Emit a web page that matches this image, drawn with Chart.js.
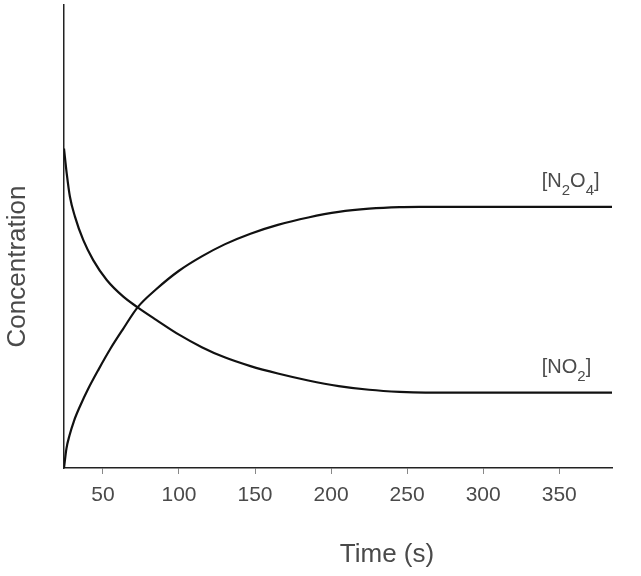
<!DOCTYPE html>
<html>
<head>
<meta charset="utf-8">
<script src="https://cdn.jsdelivr.net/npm/chart.js@4.4.1/dist/chart.umd.min.js"></script>
<style>
  body { margin: 0; background: #fff; }
  #wrap { width: 641px; height: 576px; position: relative; }
</style>
</head>
<body>
<div id="wrap"><canvas id="chart"></canvas></div>
<script>
// values (time in s, concentration in arbitrary units 0-100)
const n2o4Time = [24.4, 26, 28, 31, 35, 40, 47, 55, 63, 72.8, 85, 100, 115, 130, 147, 165, 185, 205, 225, 245, 258, 384.7]
const n2o4Conc = [0, 4.2, 7.0, 10.2, 13.4, 16.9, 21.2, 25.8, 29.9, 34.7, 38.6, 42.6, 45.7, 48.3, 50.6, 52.5, 54.1, 55.3, 56.0, 56.35, 56.4, 56.4]

const no2Time = [24.4, 26.2, 28.3, 31.6, 37.1, 43.6, 52.5, 63.4, 72.8, 85, 100, 115, 130, 147, 165, 185, 205, 225, 245, 262, 384.7]
const no2Conc = [69.0, 63.6, 58.6, 54.3, 49.2, 44.9, 40.6, 37.0, 34.7, 32.0, 28.8, 26.1, 23.9, 22.0, 20.4, 18.9, 17.7, 16.9, 16.45, 16.3, 16.3]

const timeTicks = [50, 100, 150, 200, 250, 300, 350]
const labelTime = 338.5

const textColor = '#4a4a4a'
const lineColor = '#111'
const fontFamily = '"Liberation Sans", Arial, sans-serif'

function toPoints(xs, ys){
    let pts = []
    for(let i = 0; i < xs.length; i++){
        pts.push({ x: xs[i], y: ys[i] })
    }
    return pts
}

// draws text like [N2O4] with the digits as subscripts
function drawFormula(ctx, parts, x, y){
    let cx = x
    for(let p of parts){
        ctx.font = p.sub ? '15px ' + fontFamily : '20px ' + fontFamily
        ctx.fillText(p.t, cx, p.sub ? y + 8 : y)
        cx += ctx.measureText(p.t).width
    }
}

const seriesLabels = {
    id: 'seriesLabels',
    afterDatasetsDraw(chart){
        const ctx = chart.ctx
        const xs = chart.scales.x
        const ys = chart.scales.y
        ctx.save()
        ctx.fillStyle = textColor
        ctx.textBaseline = 'alphabetic'
        ctx.textAlign = 'left'
        let lx = xs.getPixelForValue(labelTime)
        drawFormula(ctx, [{t:'[N'}, {t:'2', sub:true}, {t:'O'}, {t:'4', sub:true}, {t:']'}],
            lx, ys.getPixelForValue(n2o4Conc[n2o4Conc.length - 1]) - 20)
        drawFormula(ctx, [{t:'[NO'}, {t:'2', sub:true}, {t:']'}],
            lx, ys.getPixelForValue(no2Conc[no2Conc.length - 1]) - 20)
        ctx.restore()
    }
}

// axis titles sit a bit off-centre in the reference, so draw them by hand
const axisTitles = {
    id: 'axisTitles',
    afterDraw(chart){
        const ctx = chart.ctx
        const area = chart.chartArea
        ctx.save()
        ctx.fillStyle = textColor
        ctx.font = '26px ' + fontFamily
        ctx.textAlign = 'center'
        ctx.textBaseline = 'alphabetic'
        ctx.fillText('Time (s)', (area.left + area.right) / 2 + 49, 562)
        ctx.translate(25, (area.top + area.bottom) / 2 + 30)
        ctx.rotate(-Math.PI / 2)
        ctx.fillText('Concentration', 0, 0)
        ctx.restore()
    }
}

const data = {
    datasets: [
        {
            label: 'N2O4',
            data: toPoints(n2o4Time, n2o4Conc),
            borderColor: lineColor,
            borderWidth: 2.2,
            pointRadius: 0,
            cubicInterpolationMode: 'monotone'
        },
        {
            label: 'NO2',
            data: toPoints(no2Time, no2Conc),
            borderColor: lineColor,
            borderWidth: 2.2,
            pointRadius: 0,
            cubicInterpolationMode: 'monotone'
        }
    ]
}

const config = {
    type: 'line',
    data: data,
    plugins: [seriesLabels, axisTitles],
    options: {
        responsive: true,
        maintainAspectRatio: false,
        animation: false,
        layout: { padding: { top: 5, right: 29, bottom: 0, left: 0 } },
        plugins: {
            legend: { display: false },
            tooltip: { enabled: false }
        },
        scales: {
            x: {
                type: 'linear',
                min: n2o4Time[0],
                max: n2o4Time[n2o4Time.length - 1],
                afterBuildTicks: (scale) => { scale.ticks = timeTicks.map(v => ({ value: v })) },
                afterFit: (scale) => { scale.height = 108 },
                grid: { drawOnChartArea: false, drawTicks: true, tickLength: 6, color: '#888', lineWidth: 1 },
                border: { display: true, color: '#222', width: 1.5 },
                ticks: {
                    color: textColor,
                    padding: 9,
                    maxRotation: 0,
                    font: { family: fontFamily, size: 21 }
                }
            },
            y: {
                min: 0,
                max: 100,
                afterFit: (scale) => { scale.width = 64 },
                grid: { display: false },
                border: { display: true, color: '#222', width: 1.5 },
                ticks: { display: false }
            }
        }
    }
}

new Chart(document.getElementById('chart'), config)
</script>
</body>
</html>
